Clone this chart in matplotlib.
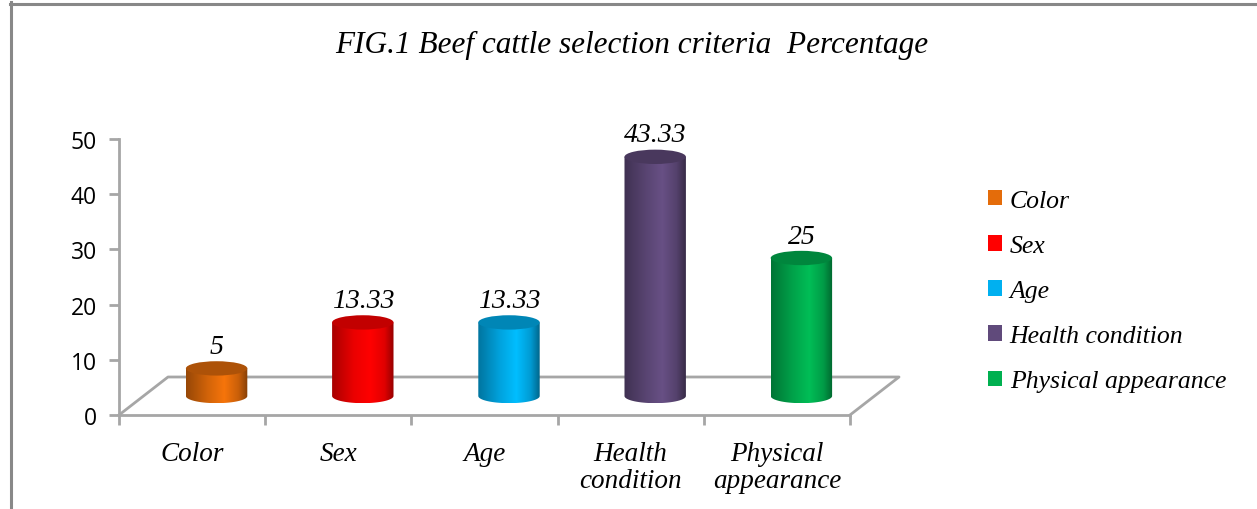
"""
Beef cattle selection criteria (percent) drawn as Excel-style 3D cylinders.
"""

import numpy as np
import matplotlib
matplotlib.use("Agg")
import matplotlib.pyplot as plt
from matplotlib.colors import LinearSegmentedColormap, to_rgb
from matplotlib.patches import Ellipse, Polygon, Patch
from matplotlib.lines import Line2D

# ==========================================
# DATA
# ==========================================
categories = ["Color", "Sex", "Age", "Health condition", "Physical appearance"]
tick_labels = ["Color", "Sex", "Age", "Health\ncondition", "Physical\nappearance"]
values = [5, 13.33, 13.33, 43.33, 25]
value_labels = ["5", "13.33", "13.33", "43.33", "25"]
colors = ["#E46C0A", "#FF0000", "#00B0F0", "#604A7B", "#00B050"]
TITLE = "FIG.1 Beef cattle selection criteria  Percentage"

# ==========================================
# LAYOUT (pixels of a 1257 x 510 canvas)
# ==========================================
W, H = 1257, 510
X0, X1 = 119, 850        # front edge of the floor
Y0, Y50 = 416, 140       # value 0 and 50
DEPTH_DX, DEPTH_DY = 49, 38

SERIF = "Liberation Serif"
GRID = "#A6A6A6"

fig = plt.figure(figsize=(W / 100, H / 100), dpi=100)
ax = fig.add_axes([X0 / W, (H - Y0) / H, (X1 - X0) / W, (Y0 - Y50) / H])

n = len(values)
px_per_cat = (X1 - X0) / n
px_per_unit = (Y0 - Y50) / 50
ox = DEPTH_DX / px_per_cat
oy = DEPTH_DY / px_per_unit

# floor outline
ax.plot([-0.5, -0.5 + ox, n - 0.5 + ox, n - 0.5],
        [0, oy, oy, 0], color=GRID, lw=2, clip_on=False, zorder=1)


def shade(rgb, f):
    return tuple(min(1, c * f) for c in rgb)


# cylinders
w = 0.42
eh = 2.6
base = oy / 2
for i, (v, col, lab) in enumerate(zip(values, colors, value_labels)):
    rgb = to_rgb(col)
    xc = i + ox / 2
    top = base + v
    cmap = LinearSegmentedColormap.from_list(
        f"cyl{i}",
        [(0.0, shade(rgb, 0.66)), (0.35, shade(rgb, 0.92)),
         (0.62, shade(rgb, 1.08)), (0.85, shade(rgb, 0.88)),
         (1.0, shade(rgb, 0.58))])
    t = np.linspace(np.pi, 2 * np.pi, 60)
    pts = [(xc - w / 2, top)]
    pts += list(zip(xc + w / 2 * np.cos(t), base + eh / 2 * np.sin(t)))
    pts += [(xc + w / 2, top)]
    body = Polygon(pts, closed=True, facecolor="none", edgecolor="none")
    ax.add_patch(body)
    img = ax.imshow(np.linspace(0, 1, 256).reshape(1, -1), cmap=cmap,
                    extent=(xc - w / 2, xc + w / 2, base - eh / 2, top),
                    aspect="auto", zorder=3, interpolation="bilinear")
    img.set_clip_path(body)
    ax.add_patch(Ellipse((xc, top), w, eh, facecolor=shade(rgb, 0.76),
                         edgecolor="none", zorder=4))
    ax.text(xc, top + eh / 2 + 0.4, lab, ha="center", va="bottom",
            family=SERIF, style="italic", fontsize=20, zorder=5)

ax.set_xlim(-0.5, n - 0.5)
ax.set_ylim(0, 50)
ax.set_facecolor("none")

for side in ["top", "right"]:
    ax.spines[side].set_visible(False)
for side in ["left", "bottom"]:
    ax.spines[side].set_color(GRID)
    ax.spines[side].set_linewidth(2)

ax.set_yticks(range(0, 51, 10))
ax.tick_params(axis="y", direction="out", length=7, width=2, color=GRID,
               labelsize=16.5, pad=9)
for lbl in ax.get_yticklabels():
    lbl.set_family("Open Sans")

ax.set_xticks(np.arange(-0.5, n, 1.0))
ax.set_xticklabels([])
ax.set_xticks(range(n), minor=True)
ax.set_xticklabels(tick_labels, minor=True, family=SERIF, style="italic",
                   fontsize=19.5, linespacing=1.1)
ax.tick_params(axis="x", which="major", direction="out", length=7, width=2,
               color=GRID)
ax.tick_params(axis="x", which="minor", length=0, pad=19)

# legend
handles = [Patch(facecolor=c, edgecolor="none", label=l)
           for c, l in zip(colors, categories)]
fig.legend(handles=handles, loc="upper left",
           bbox_to_anchor=(975 / W, 1 - 178 / H), frameon=False,
           prop={"family": SERIF, "style": "italic", "size": 18.5},
           handlelength=0.55, handleheight=0.55, handletextpad=0.3,
           labelspacing=0.9, borderpad=0)

fig.text(632 / W, 1 - 45 / H, TITLE, ha="center", va="center",
         family=SERIF, style="italic", fontsize=22.5)

# outer frame (top and left edges)
fig.add_artist(Line2D([10 / W, 1], [1 - 4.5 / H, 1 - 4.5 / H],
                      transform=fig.transFigure, color="#888888", lw=2.2))
fig.add_artist(Line2D([11 / W, 11 / W], [0, 1 - 3 / H],
                      transform=fig.transFigure, color="#888888", lw=2.2))

fig.savefig("out.png", dpi=100, facecolor="white")
